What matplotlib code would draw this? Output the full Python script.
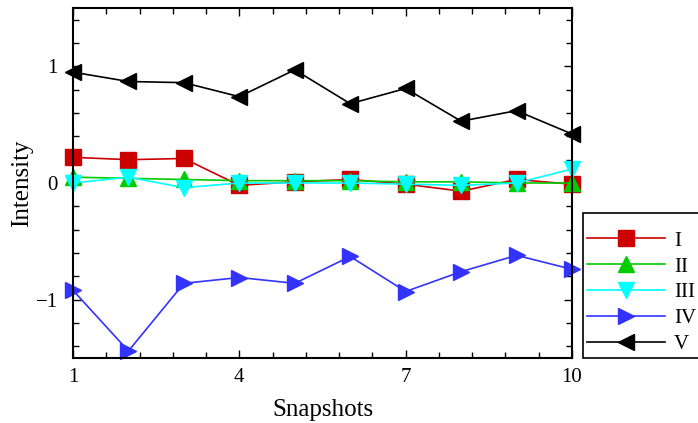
import matplotlib
matplotlib.use("Agg")
import matplotlib.pyplot as plt
from matplotlib.ticker import MultipleLocator, AutoMinorLocator

plt.rcParams['font.family'] = ['Liberation Serif', 'DejaVu Serif']

snapshots = [1, 2, 3, 4, 5, 6, 7, 8, 9, 10]
x_ticks = [1, 4, 7, 10]
series_names = ["I", "II", "III", "IV", "V"]
series_i = [0.22, 0.20, 0.21, -0.02, 0.01, 0.03, -0.01, -0.07, 0.03, -0.01]
series_ii = [0.05, 0.04, 0.03, 0.02, 0.02, 0.02, 0.01, 0.01, 0.00, 0.00]
series_iii = [0.00, 0.05, -0.04, 0.00, 0.00, 0.00, -0.01, -0.02, 0.00, 0.12]
series_iv = [-0.92, -1.44, -0.86, -0.81, -0.86, -0.63, -0.93, -0.76, -0.62, -0.74]
series_v = [0.95, 0.87, 0.86, 0.74, 0.97, 0.68, 0.81, 0.53, 0.62, 0.42]

colors = ["#cc0000", "#00cc00", "#00ffff", "#3333ff", "#000000"]
markers = ["s", "^", "v", ">", "<"]


def plot_data():
    fig = plt.figure(figsize=(6.98, 4.23), dpi=100)
    ax = fig.add_axes([73 / 698, 65 / 423, 499 / 698, 350 / 423])

    all_series = [series_i, series_ii, series_iii, series_iv, series_v]
    for name, values, color, marker in zip(series_names, all_series, colors, markers):
        ax.plot(snapshots, values, color=color, marker=marker, markersize=12,
                linewidth=1.2, label=name, clip_on=False)

    ax.set_xlim(1, 10)
    ax.set_ylim(-1.5, 1.5)
    ax.set_xticks(x_ticks)
    ax.xaxis.set_minor_locator(AutoMinorLocator(5))
    ax.yaxis.set_major_locator(MultipleLocator(1))
    ax.yaxis.set_minor_locator(AutoMinorLocator(5))
    ax.tick_params(which="both", direction="in", top=True, right=True, width=1.0)
    ax.tick_params(which="major", length=6)
    ax.tick_params(which="minor", length=4)
    ax.tick_params(axis="x", labelsize=15, pad=7)
    ax.tick_params(axis="y", labelsize=15, pad=11)
    for spine in ax.spines.values():
        spine.set_linewidth(1.5)

    ax.set_xlabel("Snapshots", fontsize=18, labelpad=9)
    ax.set_ylabel("Intensity", fontsize=18, labelpad=2)

    # blank title leaves the extra room above the first entry
    leg = ax.legend(loc="lower left", bbox_to_anchor=(1.022, 0.0), fontsize=15,
                    title=" ", title_fontsize=6,
                    handlelength=3.75, handletextpad=0.42, borderaxespad=0,
                    borderpad=0.19, labelspacing=0.3, fancybox=False,
                    framealpha=1, edgecolor="black")
    leg.get_frame().set_linewidth(1.2)

    fig.savefig("out.png", dpi=100)


plot_data()
